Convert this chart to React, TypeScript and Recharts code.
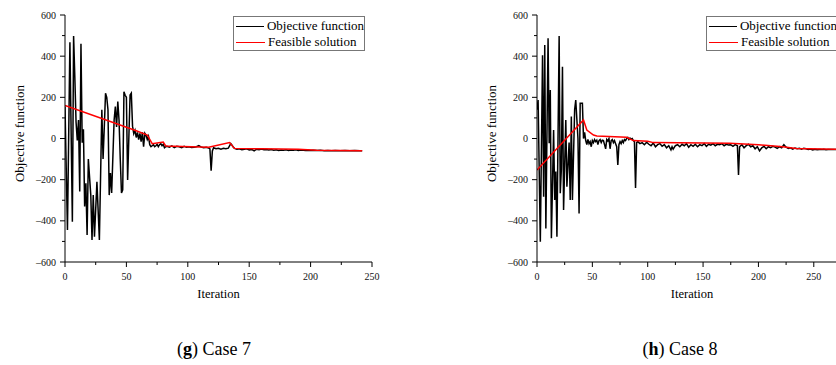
import React from "react";
import { LineChart, Line, XAxis, YAxis, Legend, Label } from "recharts";

const FONT = "'Liberation Serif', 'Times New Roman', serif";

const seriesNames = ["Objective function", "Feasible solution"];
const yTicks = [-600, -500, -400, -300, -200, -100, 0, 100, 200, 300, 400, 500, 600];
const xTicksCase7 = [0, 25, 50, 75, 100, 125, 150, 175, 200, 225, 250];
const xTicksCase8 = [0, 25, 50, 75, 100, 125, 150, 175, 200, 225, 250, 275];

// [iteration, value]
const case7Objective: [number, number][] = [
  [0, 155], [2, -445], [4, 467], [6, -405], [7, 498], [8, 300], [9, 80], [10, -10],
  [11, 90], [12, -258], [13, 460], [14, -20], [15, 45], [16, -330], [17, -218], [18, -469],
  [19, -100], [21, -275], [22, -493], [23, -275], [24, -477], [26, -210], [28, -493], [30, 140],
  [31, -100], [32, 56], [33, 220], [34, 200], [35, 140], [36, -275], [37, -168], [38, -265],
  [40, 90], [41, 155], [42, 56], [43, 180], [44, 90], [45, -100], [46, -265], [47, -250],
  [48, 227], [49, 210], [50, 200], [51, -202], [53, 211], [54, 220], [55, 60], [56, 24],
  [57, 40], [58, 5], [59, 30], [60, -5], [61, 25], [62, -15], [63, 30], [64, -40],
  [65, 25], [66, 15], [67, -5], [68, 10], [69, -30], [70, -40], [71, -35], [72, -30],
  [73, -40], [74, -35], [75, -28], [76, -40], [77, -30], [78, -25], [79, -35], [80, -28],
  [81, -45], [82, -40], [83, -38], [85, -42], [87, -36], [89, -44], [91, -38], [93, -40],
  [95, -45], [97, -38], [99, -42], [101, -40], [103, -44], [105, -42], [107, -40], [109, -35],
  [111, -42], [113, -45], [115, -43], [117, -46], [118, -50], [119, -156], [120, -60], [121, -45],
  [123, -50], [125, -48], [127, -52], [129, -48], [131, -50], [133, -47], [135, -25], [136, -32],
  [137, -42], [138, -48], [140, -52], [142, -50], [144, -55], [146, -52], [148, -50], [150, -56],
  [152, -53], [154, -60], [156, -52], [158, -54], [160, -51], [162, -55], [164, -53], [166, -56],
  [168, -54], [170, -57], [172, -55], [174, -58], [176, -56], [178, -57], [180, -55], [182, -58],
  [184, -56], [186, -57], [188, -55], [190, -58], [192, -56], [194, -57], [196, -58], [198, -57],
  [200, -58], [202, -57], [205, -58], [208, -57], [211, -59], [214, -58], [217, -59], [220, -58],
  [224, -59], [228, -58], [232, -59], [236, -58], [240, -59], [242, -59],
];

const case7Feasible: [number, number][] = [
  [0, 160], [30, 97], [58, 38], [67, 17], [71, -25], [80, -17], [82, -36], [117, -43],
  [134, -20], [138, -48], [160, -50], [190, -52], [205, -57], [242, -59],
];

const case8Objective: [number, number][] = [
  [0, 140], [1, 187], [3, -501], [5, 405], [6, -283], [7, 454], [8, -437], [10, 487],
  [11, -23], [12, 236], [13, -485], [15, 41], [16, -299], [17, -160], [18, -477], [20, 498],
  [21, -266], [22, -150], [23, 349], [24, -347], [26, 90], [27, -234], [29, -20], [30, -299],
  [31, 107], [32, -299], [34, 140], [35, 187], [37, 0], [38, -364], [39, 171], [41, 171],
  [42, 0], [43, 30], [44, -10], [45, -30], [46, -5], [47, -25], [48, -15], [49, -40],
  [50, -10], [51, -20], [52, -5], [53, -15], [54, -8], [55, -30], [56, -10], [57, -5],
  [58, -20], [59, -8], [60, -10], [61, -30], [62, -50], [63, -5], [64, -12], [65, 0],
  [66, -50], [67, -10], [68, -5], [69, -20], [70, -10], [71, -25], [72, -40], [73, -129],
  [74, -30], [75, -15], [76, -25], [77, -10], [78, -20], [79, -5], [80, -10], [81, 0],
  [82, 5], [83, -5], [84, 2], [85, -3], [86, 0], [87, -10], [88, -15], [89, -241],
  [90, -20], [91, -15], [93, -25], [95, -20], [97, -30], [99, -18], [101, -28], [103, -35],
  [105, -22], [107, -40], [109, -30], [111, -25], [113, -38], [115, -30], [117, -45], [119, -35],
  [121, -55], [122, -40], [123, -52], [125, -35], [127, -30], [129, -40], [131, -28], [133, -35],
  [135, -25], [137, -42], [139, -30], [141, -38], [143, -28], [145, -40], [147, -30], [149, -35],
  [151, -25], [153, -38], [155, -28], [157, -32], [159, -25], [161, -35], [163, -28], [165, -30],
  [167, -25], [169, -35], [171, -28], [173, -32], [175, -30], [177, -38], [179, -30], [181, -35],
  [182, -177], [183, -40], [185, -30], [187, -45], [189, -35], [191, -28], [193, -40], [195, -35],
  [197, -50], [199, -40], [201, -60], [203, -45], [205, -38], [207, -50], [209, -40], [211, -45],
  [213, -38], [215, -42], [217, -48], [219, -40], [221, -45], [223, -30], [225, -42], [227, -48],
  [229, -45], [231, -52], [233, -46], [235, -50], [237, -48], [239, -52], [241, -47], [243, -50],
  [245, -53], [247, -51], [249, -56], [251, -52], [253, -55], [255, -53], [257, -54], [259, -52],
  [261, -55], [263, -53], [265, -54], [267, -53], [270, -54], [273, -55], [276, -55],
];

const case8Feasible: [number, number][] = [
  [0, -153], [42, 90], [45, 41], [51, 17], [54, 12], [81, 6], [87, -10], [100, -13],
  [105, -20], [174, -23], [200, -30], [222, -40], [234, -48], [276, -53],
];

type Row = { i: number; obj?: number; feas?: number };

const buildRows = (obj: [number, number][], feas: [number, number][]): Row[] => {
  const rows = new Map<number, Row>();
  obj.forEach(([i, v]) => rows.set(i, { ...(rows.get(i) || { i }), obj: v }));
  feas.forEach(([i, v]) => rows.set(i, { ...(rows.get(i) || { i }), feas: v }));
  return Array.from(rows.values()).sort((a, b) => a.i - b.i);
};

const fmt = (v: number) => (v < 0 ? `\u2013${Math.abs(v)}` : `${v}`);

const YTick = (props: any) => {
  const { x, y, payload } = props;
  const major = payload.value % 200 === 0;
  return (
    <g>
      <line x1={x} x2={x - (major ? 5 : 3)} y1={y} y2={y} stroke="#000" strokeWidth={1} />
      {major && (
        <text x={x - 9} y={y} dy="0.35em" textAnchor="end" fontSize={10} fontFamily={FONT} fill="#111">
          {fmt(payload.value)}
        </text>
      )}
    </g>
  );
};

const XTick = (props: any) => {
  const { x, y, payload } = props;
  const major = payload.value % 50 === 0;
  return (
    <g>
      <line x1={x} x2={x} y1={y} y2={y + (major ? 5 : 3)} stroke="#000" strokeWidth={1} />
      {major && (
        <text x={x} y={y + 18} textAnchor="middle" fontSize={10} fontFamily={FONT} fill="#111">
          {payload.value}
        </text>
      )}
    </g>
  );
};

const LegendBox = (props: any) => {
  const items = [...(props.payload || [])].sort(
    (a: any, b: any) => seriesNames.indexOf(a.value) - seriesNames.indexOf(b.value)
  );
  return (
    <div
      style={{
        border: "1px solid #777",
        background: "#fff",
        width: 130,
        height: 32,
        paddingTop: 1,
        boxSizing: "content-box",
        fontFamily: FONT,
        fontSize: 13,
        color: "#000",
      }}
    >
      {items.map((item: any) => (
        <div key={item.value} style={{ display: "flex", alignItems: "center", height: 16, whiteSpace: "nowrap" }}>
          <span
            style={{
              display: "inline-block",
              width: 29,
              marginLeft: 2,
              marginRight: 3,
              borderTop: `1.5px solid ${item.color}`,
            }}
          />
          <span>{item.value}</span>
        </div>
      ))}
    </div>
  );
};

type PanelProps = {
  left: number;
  rows: Row[];
  xMax: number;
  xTicks: number[];
  plotWidth: number;
  legendLeft: number;
};

const Panel = ({ left, rows, xMax, xTicks, plotWidth, legendLeft }: PanelProps) => (
  <div style={{ position: "absolute", left, top: 0 }}>
    <LineChart
      width={65 + plotWidth + 20}
      height={300}
      data={rows}
      margin={{ top: 15, right: 20, bottom: 0, left: 0 }}
    >
      <XAxis
        dataKey="i"
        type="number"
        domain={[0, xMax]}
        ticks={xTicks}
        interval={0}
        height={38}
        tickSize={0}
        tickMargin={0}
        tickLine={false}
        axisLine={{ stroke: "#000", strokeWidth: 1 }}
        tick={XTick}
        allowDataOverflow
      >
        <Label
          position="insideBottom"
          offset={2}
          value="Iteration"
          fontSize={12.5}
          fontFamily={FONT}
          fill="#000"
        />
      </XAxis>
      <YAxis
        type="number"
        domain={[-600, 600]}
        ticks={yTicks}
        interval={0}
        width={65}
        tickSize={0}
        tickMargin={0}
        tickLine={false}
        axisLine={{ stroke: "#000", strokeWidth: 1 }}
        tick={YTick}
      >
        <Label
          content={() => (
            <text
              x={19}
              y={133.5}
              transform="rotate(-90 19 133.5)"
              textAnchor="middle"
              dy="0.35em"
              fontSize={13}
              fontFamily={FONT}
              fill="#000"
            >
              Objective function
            </text>
          )}
        />
      </YAxis>
      <Legend
        layout="vertical"
        align="center"
        verticalAlign="middle"
        itemSorter={null}
        wrapperStyle={{ left: legendLeft, top: 16, width: 132 }}
        content={LegendBox}
      />
      <Line
        type="linear"
        dataKey="obj"
        name={seriesNames[0]}
        stroke="#000"
        strokeWidth={1.5}
        dot={false}
        activeDot={false}
        connectNulls
        isAnimationActive={false}
      />
      <Line
        type="linear"
        dataKey="feas"
        name={seriesNames[1]}
        stroke="#ff0000"
        strokeWidth={1.5}
        dot={false}
        activeDot={false}
        connectNulls
        isAnimationActive={false}
      />
    </LineChart>
  </div>
);

const captionStyle: React.CSSProperties = {
  position: "absolute",
  top: 339,
  textAlign: "center",
  fontFamily: FONT,
  fontSize: 18,
  color: "#000",
  whiteSpace: "nowrap",
};

export default function App() {
  const rows7 = buildRows(case7Objective, case7Feasible);
  const rows8 = buildRows(case8Objective, case8Feasible);
  return (
    <div
      style={{
        position: "absolute",
        left: 0,
        top: 0,
        width: 836,
        height: 365,
        overflow: "hidden",
        background: "#fff",
      }}
    >
      <Panel left={0} rows={rows7} xMax={250} xTicks={xTicksCase7} plotWidth={307} legendLeft={233} />
      <Panel left={472} rows={rows8} xMax={280} xTicks={xTicksCase8} plotWidth={310} legendLeft={234} />
      <div style={{ ...captionStyle, left: 0, width: 428 }}>
        (<b>g</b>) Case 7
      </div>
      <div style={{ ...captionStyle, left: 472, width: 416 }}>
        (<b>h</b>) Case 8
      </div>
    </div>
  );
}
